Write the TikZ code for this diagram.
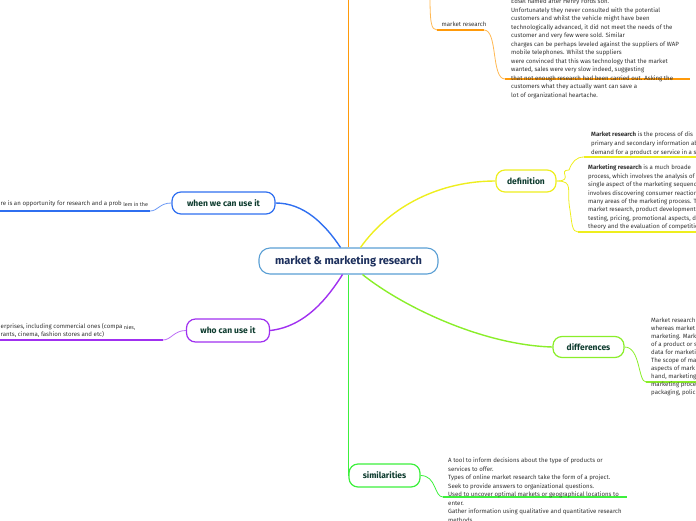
\documentclass[tikz,border=0pt]{standalone}
\usepackage{fontspec}
\setmainfont{Fira Sans}
\definecolor{cOrange}{HTML}{FF9A0A}
\definecolor{cYellow}{HTML}{EEEE1E}
\definecolor{cBlue}{HTML}{2F6FF0}
\definecolor{cPurple}{HTML}{A030F0}
\definecolor{cLime}{HTML}{8AEE2A}
\definecolor{cGreen}{HTML}{3CF03C}
\definecolor{cCenter}{HTML}{5A9FD4}
\definecolor{cLabel}{HTML}{0D3B2E}
\definecolor{cNavy}{HTML}{1C2F5C}
\definecolor{cBody}{HTML}{333333}
\tikzset{
  topic/.style={draw, line width=1.2pt, fill=white, rounded corners=9pt, text=cLabel,
    font=\fontsize{8.5}{10}\selectfont\bfseries, inner sep=0pt},
  body/.style={font=\fontsize{6.1}{8.5}\selectfont, text=cBody, align=left, inner sep=0pt, anchor=north west},
  line/.style={font=\fontsize{6.1}{7}\selectfont, text=cBody, inner sep=0pt},
  conn/.style={line width=1.4pt},
  thin/.style={line width=0.8pt},
  under/.style={line width=1.8pt},
}
\begin{document}
\begin{tikzpicture}[x=1pt,y=-1pt]
\useasboundingbox (0,0) rectangle (696,520);
\clip (0,0) rectangle (696,520);

% ---------- centre and topics ----------
\node[draw=cCenter, line width=1.1pt, fill=white, rounded corners=11pt, minimum width=179pt, minimum height=26pt,
  text=cNavy, font=\fontsize{11}{12}\selectfont\bfseries, inner sep=0pt] (center) at (348.5,261) {market \& marketing research};

\node[topic, draw=cBlue, minimum width=103pt, minimum height=22pt] (when) at (223.5,203) {when we can use it};
\node[topic, draw=cPurple, minimum width=83pt, minimum height=23pt] (who) at (228,330.5) {who can use it};
\node[topic, draw=cYellow, minimum width=60pt, minimum height=22pt] (def) at (526,181) {definition};
\node[topic, draw=cLime, minimum width=71pt, minimum height=21pt] (diff) at (588.5,347) {differences};
\node[topic, draw=cGreen, minimum width=71pt, minimum height=23pt] (sim) at (384.5,475.5) {similarities};

\coordinate (otop) at (348.5,-5);
\coordinate (o2) at (430,-5);

\draw[cOrange, conn] (center.north) -- (center.north |- otop);
\draw[cBlue, conn] (when.east) .. controls +(28,0) and +(-16,-24) .. ([xshift=-8pt]center.north);
\draw[cYellow, conn] ([xshift=12pt]center.north) .. controls +(30,-42) and +(-55,0) .. (def.west);
\draw[cPurple, conn] (who.east) .. controls +(36,-4) and +(-14,22) .. ([xshift=-6pt]center.south);
\draw[cLime, conn] ([xshift=14pt]center.south) .. controls +(40,32) and +(-70,-2) .. (diff.west);
\draw[cGreen, conn] (center.south) -- (center.south |- sim.west) -- (sim.west);

% ---------- market research (orange, top) ----------
\node[line] (mr) at (464,24) {market research};
\coordinate (mrA) at (437,30);
\coordinate (mrB) at (484,30);
\coordinate (mrC) at (505,79);
\coordinate (mrD) at (690,79);
\draw[cOrange!70, thin] (o2) .. controls (430,22) and (431,30) .. (mrA);
\draw[cOrange, under] (mrA) -- (mrB);
\draw[cOrange!70, thin] (mrB) .. controls (498,30) and (491,79) .. (mrC);
\draw[cOrange, under] (mrC) -- (mrD);
\node[body] (mrtext) at (511,-1) {Edsel named after Henry Fords son.\\
Unfortunately they never consulted with the potential\\
customers and whilst the vehicle might have been\\
technologically advanced, it did not meet the needs of the\\
customer and very few were sold. Similar\\
charges can be perhaps leveled against the suppliers of WAP\\
mobile telephones. Whilst the suppliers\\
were convinced that this was technology that the market\\
wanted, sales were very slow indeed, suggesting\\
that not enough research had been carried out. Asking the\\
customers what they actually want can save a\\
lot of organizational heartache.};

% ---------- definition ----------
\coordinate (dU) at (584,157);
\coordinate (dUe) at (700,157);
\coordinate (dL) at (578,232);
\coordinate (dLe) at (700,232);
\draw[cYellow, thin] (def.east) .. controls +(18,0) and +(-12,0) .. (569,170) .. controls +(3,-8) and +(-8,0) .. (dU);
\draw[cYellow, under] (dU) -- (dUe);
\draw[cYellow, thin] (def.east) .. controls +(18,0) and +(-4,-20) .. (570,210) .. controls +(2,14) and +(-6,0) .. (dL);
\draw[cYellow, under] (dL) -- (dLe);
\node[body, font=\fontsize{6.1}{9.2}\selectfont] (def1) at (591,131.5) {\textbf{Market research} is the process of dis\\
primary and secondary information ab\\
demand for a product or service in a s};
\node[body, font=\fontsize{6.1}{8.45}\selectfont] (def2) at (588,164.5) {\textbf{Marketing research} is a much broade\\
process, which involves the analysis of\\
single aspect of the marketing sequenc\\
involves discovering consumer reaction\\
many areas of the marketing process. T\\
market research, product development\\
testing, pricing, promotional aspects, d\\
theory and the evaluation of competitio};

% ---------- differences ----------
\coordinate (fA) at (646,382);
\coordinate (fB) at (700,382);
\draw[cLime, thin] (diff.east) .. controls +(16,0) and +(-8,0) .. (fA);
\draw[cLime, under] (fA) -- (fB);
\node[body, font=\fontsize{6.1}{8}\selectfont] (difftext) at (651,317.5) {Market research\\
whereas market\\
marketing. Mark\\
of a product or s\\
data for marketi\\
The scope of ma\\
aspects of mark\\
hand, marketing\\
marketing proce\\
packaging, polic};

% ---------- similarities ----------
\coordinate (sA) at (443,497);
\coordinate (sB) at (627,497);
\draw[cGreen, thin] (sim.east) .. controls +(16,0) and +(-9,0) .. (sA);
\draw[cGreen, under] (sA) -- (sB);
\node[body] (simtext) at (448,458) {A tool to inform decisions about the type of products or\\
services to offer.\\
Types of online market research take the form of a project.\\
Seek to provide answers to organizational questions.\\
Used to uncover optimal markets or geographical locations to\\
enter.\\
Gather information using qualitative and quantitative research\\
methods.};

% ---------- when we can use it ----------
\coordinate (wA) at (150,211);
\coordinate (wB) at (-5,211);
\draw[cBlue!70, thin] (when.west) .. controls +(-12,0) and +(8,0) .. (wA);
\draw[cBlue, under] (wA) -- (wB);
\node[line, anchor=base west] (wt1) at (0.5,205) {re is an opportunity for research and a prob};
\node[line, font=\fontsize{5.4}{6}\selectfont, anchor=base west] (wt2) at ([xshift=1pt,yshift=-1.2pt]wt1.base east) {lem in the};

% ---------- who can use it ----------
\coordinate (pA) at (163,340);
\coordinate (pB) at (-5,340);
\draw[cPurple!70, thin] (who.west) .. controls +(-12,0) and +(8,0) .. (pA);
\draw[cPurple, under] (pA) -- (pB);
\node[line, anchor=base west] (pt1) at (0.5,328) {erprises, including commercial ones (compa};
\node[line, font=\fontsize{5.4}{6}\selectfont, anchor=base west] (pt2) at ([xshift=1pt,yshift=-1.2pt]pt1.base east) {nies,};
\node[line, anchor=base west] (pt3) at (0.5,336.5) {rants, cinema, fashion stores and etc)};
\end{tikzpicture}
\end{document}
